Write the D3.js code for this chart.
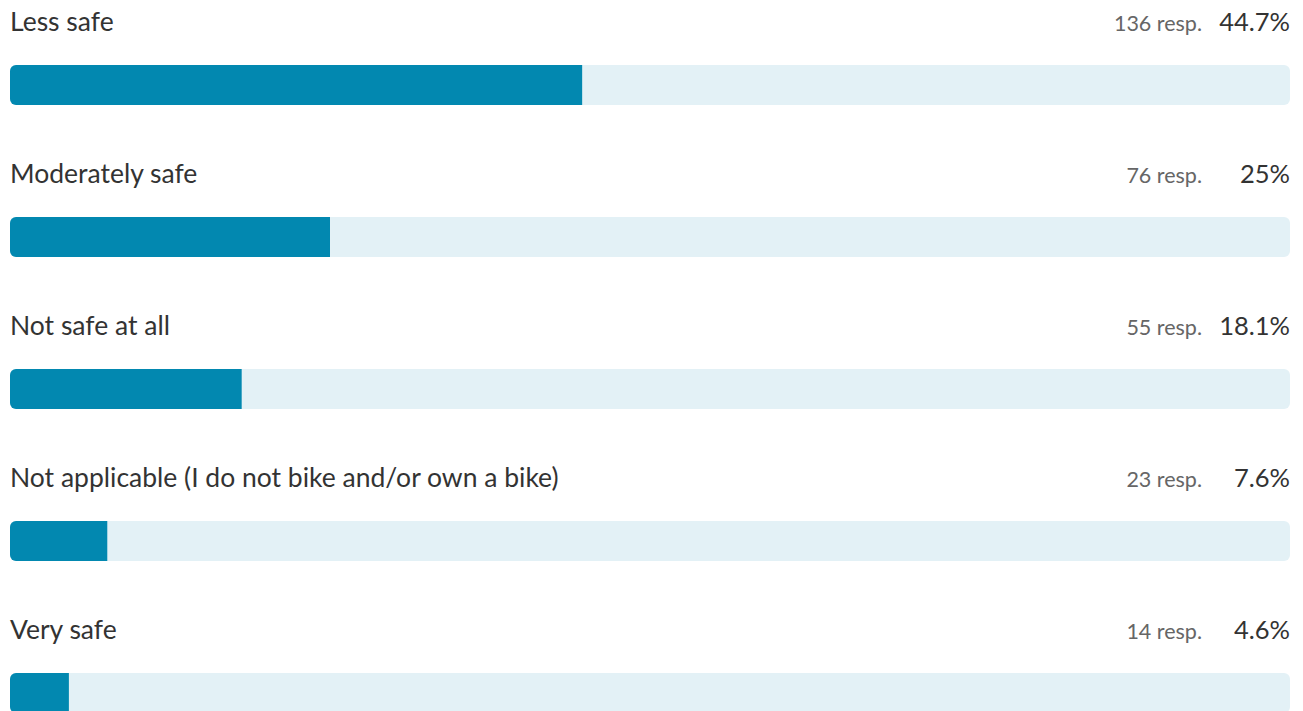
<!DOCTYPE html>
<html>
<head>
<meta charset="utf-8">
<script src="https://cdn.jsdelivr.net/npm/d3@7"></script>
<style>
  html, body { margin: 0; padding: 0; background: #fff; overflow: hidden; }
  svg { display: block; font-family: "Source Sans Pro", "Lato", "Noto Sans", sans-serif; }
</style>
</head>
<body>
<svg id="chart" width="1303" height="711"></svg>
<script>
// Survey answers, responses and shares
const categories = [
  "Less safe",
  "Moderately safe",
  "Not safe at all",
  "Not applicable (I do not bike and/or own a bike)",
  "Very safe"
];
const responses = [136, 76, 55, 23, 14];
const percents = [44.7, 25, 18.1, 7.6, 4.6];

const W = 1303, H = 711;
const left = 10, right = 1290;
const rowStep = 152, firstBarTop = 65, barH = 40, radius = 6;
const textOffset = -34;

const svg = d3.select("#chart");

const x = d3.scaleLinear().domain([0, 100]).range([left, right]);
const y = d3.scaleBand()
  .domain(categories)
  .range([firstBarTop, firstBarTop + rowStep * categories.length])
  .paddingInner(0).paddingOuter(0);

const rows = svg.selectAll("g.row")
  .data(categories.map((c, i) => ({ c, n: responses[i], p: percents[i] })))
  .join("g")
  .attr("class", "row")
  .attr("transform", d => `translate(0,${y(d.c)})`);

// clip path for rounded ends on each track
const defs = svg.append("defs");
categories.forEach((c, i) => {
  defs.append("clipPath").attr("id", "clip" + i)
    .append("rect")
    .attr("x", x(0)).attr("y", 0)
    .attr("width", x(100) - x(0)).attr("height", barH)
    .attr("rx", radius).attr("ry", radius);
});

rows.append("g")
  .attr("clip-path", (d, i) => `url(#clip${i})`)
  .call(g => {
    g.append("rect")
      .attr("x", x(0)).attr("y", 0)
      .attr("width", x(100) - x(0)).attr("height", barH)
      .attr("fill", "#e3f1f6");
    g.append("rect")
      .attr("x", x(0)).attr("y", 0)
      .attr("width", d => x(d.p) - x(0)).attr("height", barH)
      .attr("fill", "#0288b0");
  });

rows.append("text")
  .attr("x", left)
  .attr("y", textOffset)
  .attr("font-size", 26.5)
  .attr("fill", "#333")
  .text(d => d.c);

rows.append("text")
  .attr("x", 1202)
  .attr("y", textOffset)
  .attr("text-anchor", "end")
  .attr("font-size", 21.5)
  .attr("fill", "#666")
  .text(d => `${d.n} resp.`);

rows.append("text")
  .attr("x", right)
  .attr("y", textOffset)
  .attr("text-anchor", "end")
  .attr("font-size", 25.5)
  .attr("fill", "#333")
  .text(d => `${d.p}%`);
</script>
</body>
</html>
